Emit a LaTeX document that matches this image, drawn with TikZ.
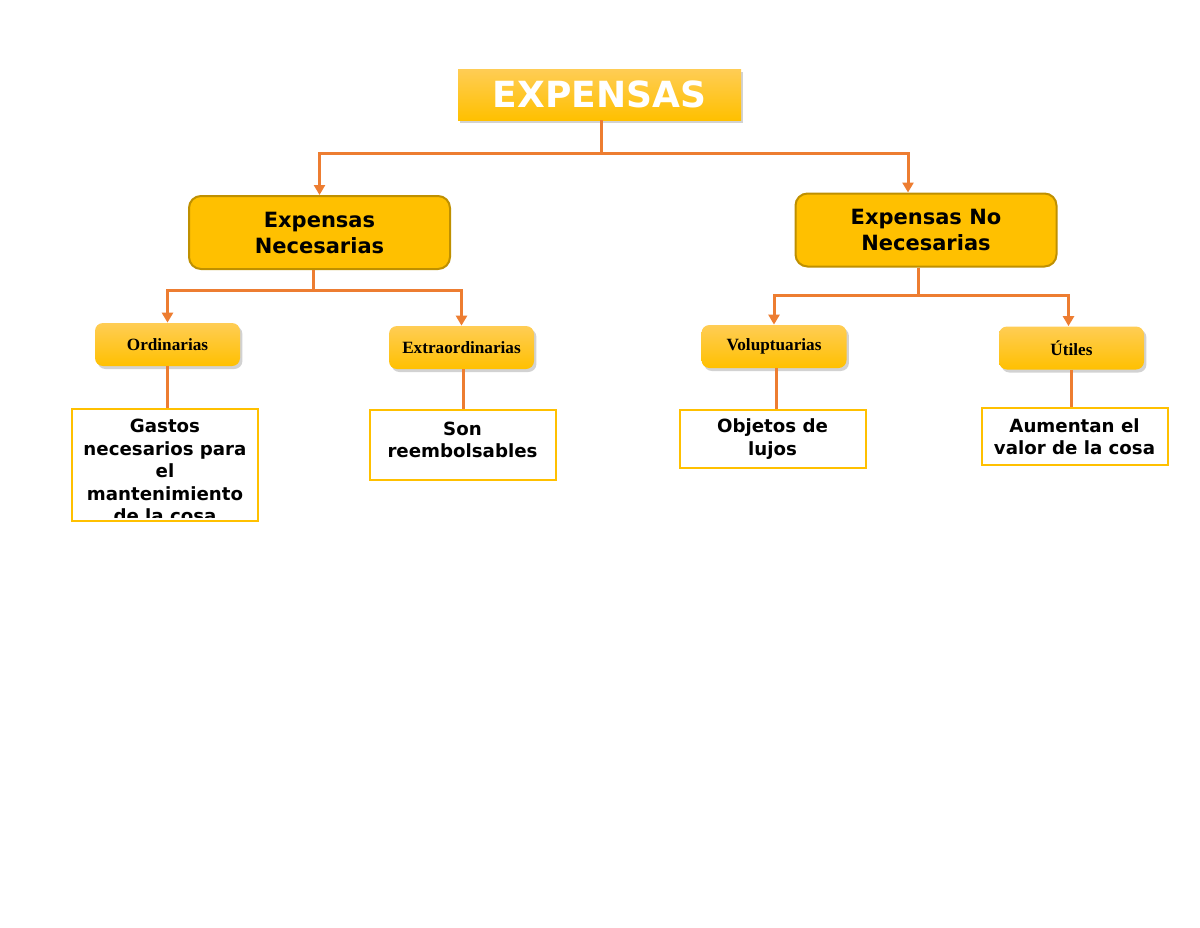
\documentclass[tikz,border=0pt]{standalone}
\usepackage{fontspec}
\setmainfont{DejaVu Sans}
\newfontfamily\kindfont{Liberation Serif}
\usetikzlibrary{arrows.meta,shadows}
\definecolor{gold}{HTML}{FFC000}
\definecolor{goldtop}{HTML}{FFCD55}
\definecolor{goldedge}{HTML}{BF9000}
\definecolor{linkorange}{HTML}{ED7D31}

\begin{document}
\begin{tikzpicture}[
  x=0.5pt,y=-0.5pt,
  softshadow/.style={drop shadow={shadow xshift=1.2pt,shadow yshift=-1.5pt,opacity=.35}},
  title/.style={top color=goldtop,bottom color=gold,minimum width=141.5pt,minimum height=25.5pt,text=white,font=\fontsize{18}{20}\selectfont\bfseries,softshadow},
  branch/.style={fill=gold,draw=goldedge,line width=1pt,rounded corners=6pt,minimum width=130.5pt,minimum height=36.5pt,align=center,font=\fontsize{10.5}{13}\selectfont\bfseries},
  kind/.style={top color=goldtop,bottom color=gold,rounded corners=4pt,minimum width=72.5pt,minimum height=21.5pt,font=\kindfont\fontsize{8.6}{10}\selectfont\bfseries,softshadow},
  leaf/.style={draw=gold,line width=1pt,minimum width=93pt,align=center,font=\fontsize{9.1}{11.2}\selectfont\bfseries},
  leaftext/.style={font=\fontsize{9.1}{11.2}\selectfont\bfseries,align=center,inner sep=0pt},
  conn/.style={linkorange,line width=1.5pt,-{Triangle[length=5pt,width=5.5pt]}},
  link/.style={linkorange,line width=1.5pt}
]
\fill[white] (0,0) rectangle (1200,927);
\useasboundingbox (0,0) rectangle (1200,927);

% top
\node[title] (exp) at (599.5,94.5) {EXPENSAS};

% two kinds of expensas
\node[branch] (en) at (319.5,232.5) {Expensas\\Necesarias};
\node[branch] (enn) at (926,230) {Expensas No\\Necesarias};
\draw[conn] ([xshift=1pt]exp.south) -- ++(0,33) -| (en.north);
\draw[conn] ([xshift=1pt]exp.south) -- ++(0,33) -| ([xshift=-9pt]enn.north);

% subkinds
\node[kind] (ord) at (167.5,344.5) {Ordinarias};
\node[kind] (ext) at (461.5,347.5) {Extraordinarias};
\node[kind] (vol) at (774,346.5) {Voluptuarias};
\node[kind] (uti) at (1071.5,348) {Útiles};
\draw[conn] ([xshift=-3pt]en.south) -- ++(0,20) -| (ord.north);
\draw[conn] ([xshift=-3pt]en.south) -- ++(0,20) -| (ext.north);
\draw[conn] ([xshift=-4pt]enn.south) -- ++(0,28) -| (vol.north);
\draw[conn] ([xshift=-4pt]enn.south) -- ++(0,28) -| ([xshift=-1.5pt]uti.north);

% descriptions
\node[leaf,minimum height=56pt,anchor=north] (l1) at (165,408) {};
\begin{scope}
  \clip (73,409) rectangle (257,517);
  \node[leaftext,anchor=north] (l1text) at (165,419)
    {Gastos\\necesarios para\\el\\mantenimiento\\de la cosa};
\end{scope}
\node[leaf,minimum height=35pt] (l2) at (462.5,445) {};
\node[leaftext] (l2text) at (462.5,440) {Son\\reembolsables};
\node[leaf,minimum height=29pt] (l3) at (772.5,439) {Objetos de\\lujos};
\node[leaf,minimum height=28.5pt] (l4) at (1074.5,436.5) {Aumentan el\\valor de la cosa};
\draw[link] (ord.south) -- (ord.south |- l1.north);
\draw[link] ([xshift=1pt]ext.south) -- ([xshift=1pt]ext.south |- l2.north);
\draw[link] ([xshift=1pt]vol.south) -- ([xshift=1pt]vol.south |- l3.north);
\draw[link] (uti.south) -- (uti.south |- l4.north);
\end{tikzpicture}
\end{document}
